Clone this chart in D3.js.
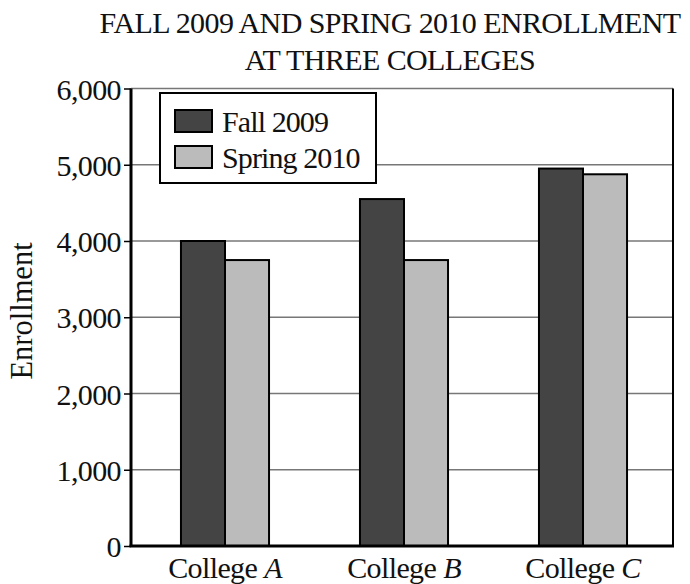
<!DOCTYPE html>
<html><head><meta charset="utf-8">
<script src="https://cdn.jsdelivr.net/npm/d3@7"></script>
<style>body{margin:0;background:#fff}svg{display:block}text{font-family:"Liberation Serif","Times New Roman",serif;fill:#111}</style>
</head><body><svg id="c" width="690" height="584"></svg>
<script>
const colleges = ["A", "B", "C"];
const seriesNames = ["Fall 2009", "Spring 2010"];
const fall2009 = [4000, 4550, 4950];
const spring2010 = [3750, 3750, 4875];
const yTicks = [0, 1000, 2000, 3000, 4000, 5000, 6000];
const colors = ["#444444", "#bbbbbb"];

(function () {
const svg = d3.select("#c");
const pLeft = 131, pRight = 673, pTop = 88.5, pBottom = 546;
const FS = 30, LS = "-0.6px";
const y = d3.scaleLinear().domain([0, 6000]).range([pBottom, pTop]);
const x = d3.scaleBand().domain(colleges).range([135.5, 672.5]).paddingInner(0.508).paddingOuter(0.254);
const xs = d3.scaleBand().domain(seriesNames).range([0, x.bandwidth()]);

// gridlines
svg.append("g").selectAll("line").data(yTicks.filter(d => d > 0)).join("line")
  .attr("x1", pLeft).attr("x2", pRight).attr("y1", d => y(d)).attr("y2", d => y(d))
  .attr("stroke", "#777").attr("stroke-width", 1.5);

// bars
const data = colleges.map((c, i) => ({c, vals: [fall2009[i], spring2010[i]]}));
const g = svg.append("g").selectAll("g").data(data).join("g")
  .attr("transform", d => `translate(${x(d.c)},0)`);
g.selectAll("rect").data(d => d.vals.map((v, j) => ({v, s: seriesNames[j], j}))).join("rect")
  .attr("x", d => xs(d.s)).attr("width", xs.bandwidth())
  .attr("y", d => y(d.v)).attr("height", d => y(0) - y(d.v))
  .attr("fill", d => colors[d.j]).attr("stroke", "#000").attr("stroke-width", 2);

// right border
svg.append("line").attr("x1", pRight).attr("x2", pRight).attr("y1", pTop).attr("y2", pBottom)
  .attr("stroke", "#000").attr("stroke-width", 2);

// y axis
const ya = svg.append("g").attr("transform", `translate(${pLeft},0)`)
  .call(d3.axisLeft(y).tickValues(yTicks).tickFormat(d3.format(",")).tickSize(7).tickPadding(3));
ya.select(".domain").attr("stroke", "#000").attr("stroke-width", 3).attr("d", `M0,${pTop}V${pBottom}`);
ya.selectAll(".tick line").attr("stroke", "#000").attr("stroke-width", 1.5);
ya.selectAll(".tick text").attr("font-size", FS).attr("letter-spacing", LS).attr("fill", "#111")
  .attr("font-family", '"Liberation Serif","Times New Roman",serif').attr("dy", "0.35em");

// bottom axis line
svg.append("line").attr("x1", pLeft - 1.5).attr("x2", pRight + 1).attr("y1", pBottom).attr("y2", pBottom)
  .attr("stroke", "#000").attr("stroke-width", 3);

// x labels
const xl = svg.append("g").selectAll("text").data(colleges).join("text")
  .attr("x", d => x(d) + x.bandwidth() / 2).attr("y", 578)
  .attr("text-anchor", "middle").attr("font-size", FS).attr("letter-spacing", LS);
xl.append("tspan").text("College ");
xl.append("tspan").attr("font-style", "italic").text(d => d);

// y label
svg.append("text").attr("transform", "translate(32,311) rotate(-90)")
  .attr("text-anchor", "middle").attr("font-size", 30.5).text("Enrollment");

// title
const titleLines = ["FALL 2009 AND SPRING 2010 ENROLLMENT", "AT THREE COLLEGES"];
svg.append("g").selectAll("text").data(titleLines).join("text")
  .attr("x", 390).attr("y", (d, i) => 33 + i * 37)
  .attr("text-anchor", "middle").attr("font-size", FS).attr("letter-spacing", LS).text(d => d);

// legend
const lg = svg.append("g");
lg.append("rect").attr("x", 160).attr("y", 93).attr("width", 216).attr("height", 90)
  .attr("fill", "#fff").attr("stroke", "#000").attr("stroke-width", 2);
const li = lg.selectAll("g").data(seriesNames).join("g")
  .attr("transform", (d, i) => `translate(175,${110 + i * 36})`);
li.append("rect").attr("width", 37).attr("height", 22)
  .attr("fill", (d, i) => colors[i]).attr("stroke", "#000").attr("stroke-width", 2);
li.append("text").attr("x", 47).attr("y", 22).attr("font-size", FS).attr("letter-spacing", "-0.9px").text(d => d);
})();
</script></body></html>
